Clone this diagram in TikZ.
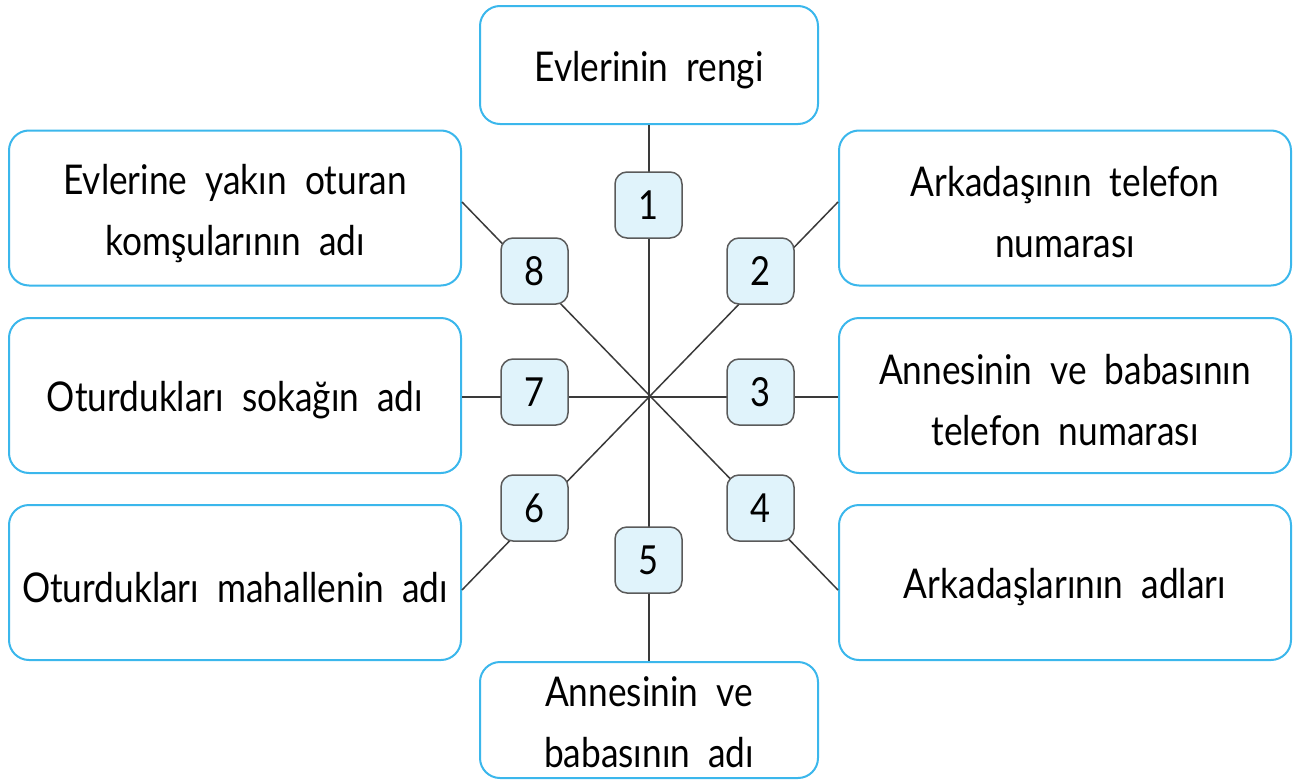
\documentclass[tikz,border=0pt]{standalone}
\usepackage{fontspec}
\setmainfont{Lato}[FakeStretch=0.86, WordSpace=2]
\definecolor{boxblue}{HTML}{3BB7EC}
\definecolor{numfill}{HTML}{E0F3FB}
\definecolor{numdraw}{HTML}{5A5A5A}
\definecolor{linecol}{HTML}{3A3A3A}
\begin{document}
\begin{tikzpicture}[x=1pt,y=-1pt,
  bigbox/.style={draw=boxblue, line width=2pt, rounded corners=20pt, fill=white,
    minimum width=452pt, minimum height=155pt, inner sep=0pt},
  midbox/.style={bigbox, minimum width=338pt, minimum height=118pt},
  lbl/.style={align=center, inner sep=0pt, font=\fontsize{41}{61}\selectfont},
  numbox/.style={draw=numdraw, line width=1.5pt, rounded corners=12pt, fill=numfill,
    minimum width=67pt, minimum height=66pt, inner sep=0pt,
    font=\fontsize{40}{40}\selectfont},
  spoke/.style={draw=linecol, line width=1.5pt}]
\useasboundingbox (0,0) rectangle (1298,779);
% boxes
\node[midbox] (T) at (649,65) {};
\node[midbox, minimum height=116pt] (B) at (649,720) {};
\node[bigbox] (L1) at (235,208) {};
\node[bigbox] (L2) at (235,395.5) {};
\node[bigbox] (L3) at (235,582.5) {};
\node[bigbox] (R1) at (1065,208) {};
\node[bigbox] (R2) at (1065,395.5) {};
\node[bigbox] (R3) at (1065,582.5) {};
% texts
\node[lbl] (Tt) at ([yshift=-5pt]T.center) {Evlerinin rengi};
\node[lbl] (Bt) at ([yshift=-2pt]B.center) {Annesinin ve\\babasının adı};
\node[lbl] (L1t) at ([yshift=-6pt]L1.center) {Evlerine yakın oturan\\komşularının adı};
\node[lbl] (L2t) at ([yshift=-5pt]L2.center) {Oturdukları sokağın adı};
\node[lbl] (L3t) at ([yshift=-5pt]L3.center) {Oturdukları mahallenin adı};
\node[lbl] (R1t) at ([yshift=-4pt]R1.center) {Arkadaşının telefon\\numarası};
\node[lbl] (R2t) at ([yshift=-5pt]R2.center) {Annesinin ve babasının\\telefon numarası};
\node[lbl] (R3t) at ([yshift=-5pt]R3.center) {Arkadaşlarının adları};
% spokes
\coordinate (c) at (649,397);
\coordinate (d1) at (L1.east |- 0,202);
\coordinate (d2) at (R1.west |- 0,202);
\coordinate (e1) at (L1.east |- 0,590);
\coordinate (e2) at (R1.west |- 0,590);
\draw[spoke] (T.south) -- (B.north);
\draw[spoke] (L2.east |- c) -- (R2.west |- c);
\draw[spoke] (d1) -- (e2);
\draw[spoke] (d2) -- (e1);
% number boxes
\node[numbox] (n1) at (648.5,205) {1};
\node[numbox] (n2) at (760.5,271) {2};
\node[numbox] (n3) at (760.5,392) {3};
\node[numbox] (n4) at (760.5,508) {4};
\node[numbox] (n5) at (648.5,560) {5};
\node[numbox] (n6) at (534.5,508) {6};
\node[numbox] (n7) at (534.5,392) {7};
\node[numbox] (n8) at (534.5,271) {8};
\end{tikzpicture}
\end{document}
